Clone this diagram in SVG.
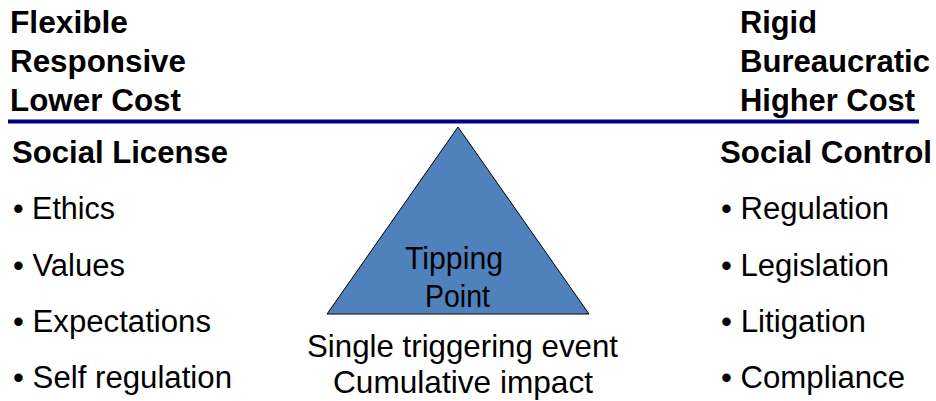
<svg xmlns="http://www.w3.org/2000/svg" width="936" height="401" viewBox="0 0 936 401">
  <style>
    text { font-family: "Liberation Sans", Arial, sans-serif; fill: #000; }
    .head { font-size: 31px; font-weight: bold; }
    .item { font-size: 31px; }
    .mid { font-size: 30.5px; }
  </style>
  <rect width="936" height="401" fill="#fff"/>

  <!-- divider rule -->
  <g id="connectors">
    <line x1="8" y1="121.5" x2="919" y2="121.5" stroke="#000080" stroke-width="4"/>
  </g>

  <!-- left side: flexible end -->
  <g id="left-traits">
    <text class="head" x="10" y="33" textLength="118" lengthAdjust="spacingAndGlyphs">Flexible</text>
    <text class="head" x="10" y="72" textLength="176" lengthAdjust="spacingAndGlyphs">Responsive</text>
    <text class="head" x="10" y="111" textLength="171" lengthAdjust="spacingAndGlyphs">Lower Cost</text>
  </g>

  <g id="social-license">
    <text class="head" x="12" y="163" textLength="216" lengthAdjust="spacingAndGlyphs">Social License</text>
    <text class="item" x="13" y="219" textLength="102" lengthAdjust="spacingAndGlyphs">• Ethics</text>
    <text class="item" x="13" y="276" textLength="112" lengthAdjust="spacingAndGlyphs">• Values</text>
    <text class="item" x="13" y="332" textLength="198" lengthAdjust="spacingAndGlyphs">• Expectations</text>
    <text class="item" x="13" y="388" textLength="219" lengthAdjust="spacingAndGlyphs">• Self regulation</text>
  </g>

  <!-- right side: rigid end -->
  <g id="right-traits">
    <text class="head" x="740" y="33" textLength="77" lengthAdjust="spacingAndGlyphs">Rigid</text>
    <text class="head" x="740" y="72" textLength="190" lengthAdjust="spacingAndGlyphs">Bureaucratic</text>
    <text class="head" x="740" y="111" textLength="175" lengthAdjust="spacingAndGlyphs">Higher Cost</text>
  </g>

  <g id="social-control">
    <text class="head" x="720" y="163" textLength="212" lengthAdjust="spacingAndGlyphs">Social Control</text>
    <text class="item" x="721" y="219" textLength="168" lengthAdjust="spacingAndGlyphs">• Regulation</text>
    <text class="item" x="721" y="276" textLength="168" lengthAdjust="spacingAndGlyphs">• Legislation</text>
    <text class="item" x="721" y="332" textLength="145" lengthAdjust="spacingAndGlyphs">• Litigation</text>
    <text class="item" x="721" y="388" textLength="184" lengthAdjust="spacingAndGlyphs">• Compliance</text>
  </g>

  <!-- tipping point fulcrum -->
  <g id="tipping-point">
    <polygon points="458,127 589,314 327,314" fill="#4F81BD" stroke="#000" stroke-width="1"/>
    <text class="mid" x="405" y="269" textLength="98" lengthAdjust="spacingAndGlyphs">Tipping</text>
    <text class="mid" x="425" y="307" textLength="65" lengthAdjust="spacingAndGlyphs">Point</text>
  </g>

  <g id="triggers">
    <text class="mid" x="307" y="357" textLength="311" lengthAdjust="spacingAndGlyphs">Single triggering event</text>
    <text class="mid" x="333" y="393" textLength="260" lengthAdjust="spacingAndGlyphs">Cumulative impact</text>
  </g>
</svg>
